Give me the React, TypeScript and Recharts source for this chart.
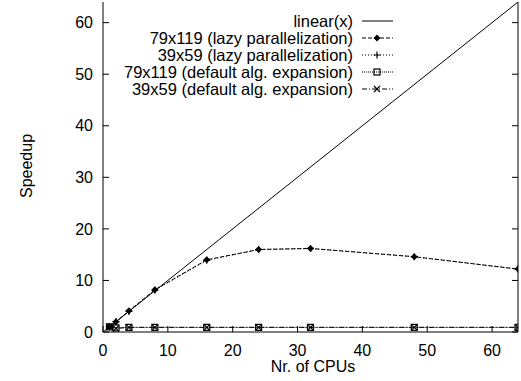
import React from 'react';
import { LineChart, Line, XAxis, YAxis, Legend } from 'recharts';

// values
const cpus = [1, 2, 4, 8, 16, 24, 32, 48, 64];
const linearX = [0, 64];
const lazy79 = [1, 2, 4.1, 8.2, 14, 16, 16.2, 14.6, 12.2];
const lazy39 = [1, 2, 4, 8.1, 13.9, 16, 16.2, 14.6, 12.2];
const default79 = [1, 0.8, 0.9, 0.9, 0.9, 0.9, 0.9, 0.9, 0.9];
const default39 = [1, 0.7, 0.9, 0.9, 0.9, 0.9, 0.9, 0.9, 0.9];
const xTicks = [0, 10, 20, 30, 40, 50, 60];
const yTicks = [0, 10, 20, 30, 40, 50, 60];

const linearData = linearX.map(x => ({ x, v: x }));
const data = cpus.map((x, i) => ({
    x,
    lazy79: lazy79[i],
    lazy39: lazy39[i],
    default79: default79[i],
    default39: default39[i]
}));

const FONT = 'Liberation Sans, Arial, sans-serif';

type Mark = 'none' | 'diamond' | 'plus' | 'square' | 'cross';

const drawMark = (kind: Mark, cx: number, cy: number, key?: any) => {
    if (kind === 'diamond')
        return <path key={key} d={`M${cx},${cy - 3.5}L${cx + 3.5},${cy}L${cx},${cy + 3.5}L${cx - 3.5},${cy}Z`} fill="#000" />;
    if (kind === 'plus')
        return <path key={key} d={`M${cx - 3.5},${cy}H${cx + 3.5}M${cx},${cy - 3.5}V${cy + 3.5}`} stroke="#000" strokeWidth={1.2} />;
    if (kind === 'square')
        return <rect key={key} x={cx - 3} y={cy - 3} width={6} height={6} fill="none" stroke="#000" strokeWidth={1.2} />;
    if (kind === 'cross')
        return <path key={key} d={`M${cx - 3},${cy - 3}L${cx + 3},${cy + 3}M${cx + 3},${cy - 3}L${cx - 3},${cy + 3}`} stroke="#000" strokeWidth={1.2} />;
    return <g key={key} />;
};

const series: { key: string; name: string; dash?: string; mark: Mark }[] = [
    { key: 'linear', name: 'linear(x)', mark: 'none' },
    { key: 'lazy79', name: '79x119 (lazy parallelization)', dash: '4 2', mark: 'diamond' },
    { key: 'lazy39', name: '39x59 (lazy parallelization)', dash: '1 2', mark: 'plus' },
    { key: 'default79', name: '79x119 (default alg. expansion)', dash: '1 1', mark: 'square' },
    { key: 'default39', name: '39x59 (default alg. expansion)', dash: '5 2 1 2', mark: 'cross' }
];

const dotFor = (kind: Mark) => (p: any) => drawMark(kind, p.cx, p.cy, p.key ?? p.index);

const LegendBox = () => (
    <svg width={530} height={100} style={{ display: 'block' }}>
        {series.map((s, i) => {
            const y = 21 + i * 17;
            return (
                <g key={s.key}>
                    <text x={353} y={y} textAnchor="end" dominantBaseline="central" fontFamily={FONT} fontSize={16.5} fill="#000">
                        {s.name}
                    </text>
                    <line x1={362} x2={393} y1={y} y2={y} stroke="#000" strokeWidth={1} strokeDasharray={s.dash} />
                    {drawMark(s.mark, 377, y)}
                </g>
            );
        })}
    </svg>
);

const tickStyle = { fontFamily: FONT, fontSize: 16, fill: '#000' };
const noTick = () => <g />;

export default function App() {
    return (
        <div style={{ position: 'absolute', left: 0, top: 0, width: 521, height: 381, overflow: 'hidden', background: '#fff' }}>
            <LineChart width={530} height={381} data={data} margin={{ top: 2, right: 6, bottom: 0, left: 0 }}>
                <XAxis
                    xAxisId={0}
                    dataKey="x"
                    type="number"
                    domain={[0, 64]}
                    ticks={xTicks}
                    allowDataOverflow
                    height={49}
                    stroke="#000"
                    tickSize={-6}
                    tickMargin={19}
                    tick={tickStyle}
                    label={{
                        content: () => (
                            <text x={313} y={372} textAnchor="middle" fontFamily={FONT} fontSize={16} fill="#000">
                                Nr. of CPUs
                            </text>
                        )
                    }}
                />
                <XAxis xAxisId="top" orientation="top" type="number" domain={[0, 64]} ticks={xTicks} allowDataOverflow height={0} stroke="#000" tickSize={-6} tick={noTick} />
                <YAxis
                    yAxisId={0}
                    type="number"
                    domain={[0, 64]}
                    ticks={yTicks}
                    allowDataOverflow
                    width={103}
                    stroke="#000"
                    tickSize={-6}
                    tickMargin={16}
                    tick={tickStyle}
                    label={{
                        content: () => (
                            <text x={26} y={166} transform="rotate(-90 26 166)" textAnchor="middle" dominantBaseline="central" fontFamily={FONT} fontSize={16} fill="#000">
                                Speedup
                            </text>
                        )
                    }}
                />
                <YAxis yAxisId="right" orientation="right" type="number" domain={[0, 64]} ticks={yTicks} allowDataOverflow width={6} stroke="#000" tickSize={-6} tick={noTick} />
                <Legend layout="vertical" align="center" verticalAlign="middle" wrapperStyle={{ left: 0, top: 0, width: 530 }} content={LegendBox} />
                <Line data={linearData} dataKey="v" stroke="#000" strokeWidth={1} dot={false} isAnimationActive={false} />
                {series.slice(1).map(s => (
                    <Line
                        key={s.key}
                        dataKey={s.key}
                        stroke="#000"
                        strokeWidth={1}
                        strokeDasharray={s.dash}
                        dot={dotFor(s.mark)}
                        activeDot={false}
                        isAnimationActive={false}
                    />
                ))}
            </LineChart>
        </div>
    );
}
